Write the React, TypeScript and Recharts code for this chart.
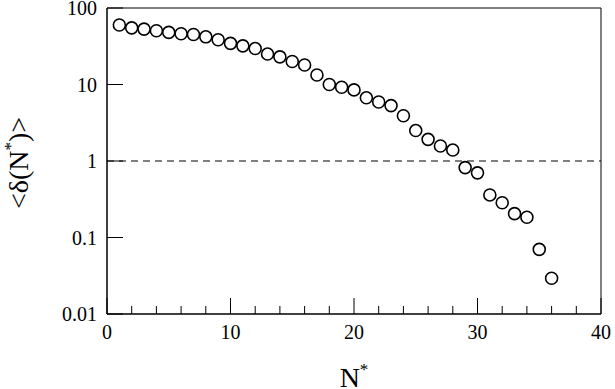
import React from 'react';
import { ScatterChart, Scatter, XAxis, YAxis, ReferenceLine, ReferenceArea, Label } from 'recharts';

const nStar = [1, 2, 3, 4, 5, 6, 7, 8, 9, 10, 11, 12, 13, 14, 15, 16, 17, 18, 19, 20, 21, 22, 23, 24, 25, 26, 27, 28, 29, 30, 31, 32, 33, 34, 35, 36];
const deltaMean = [60, 55, 53, 50.5, 48, 46, 45, 42, 38.5, 34.5, 32, 29.5, 25, 23, 20, 18, 13.3, 10, 9.2, 8.5, 6.7, 5.9, 5.3, 3.9, 2.5, 1.92, 1.57, 1.39, 0.82, 0.7, 0.36, 0.285, 0.205, 0.184, 0.07, 0.0293];

const xTicks = [0, 2, 4, 6, 8, 10, 12, 14, 16, 18, 20, 22, 24, 26, 28, 30, 32, 34, 36, 38, 40];
const xMajorTicks = [0, 10, 20, 30, 40];
const xTickLabels = ['0', '10', '20', '30', '40'];
const yTicks = [0.01, 0.1, 1, 10, 100];
const yTickLabels = ['0.01', '0.1', '1', '10', '100'];

const data = nStar.map((n, i) => ({ n, d: deltaMean[i] }));

const FONT = '"Liberation Serif", "DejaVu Serif", serif';

const XTick = (props: any) => {
  const { x, y, payload } = props;
  const idx = xMajorTicks.indexOf(payload.value);
  const major = idx >= 0;
  return (
    <g>
      <line x1={x} x2={x} y1={y} y2={y - (major ? 16 : 8)} stroke="#000" strokeWidth={1} />
      {major && (
        <text x={x} y={y + 25} textAnchor="middle" fontSize={20} fontFamily={FONT} fill="#000">
          {xTickLabels[idx]}
        </text>
      )}
    </g>
  );
};

const YTick = (props: any) => {
  const { x, y, payload } = props;
  const idx = yTicks.indexOf(payload.value);
  return (
    <g>
      <line x1={x} x2={x + 16} y1={y} y2={y} stroke="#000" strokeWidth={1} />
      <text x={x - 10} y={y + 7} textAnchor="end" fontSize={20} fontFamily={FONT} fill="#000">
        {idx >= 0 ? yTickLabels[idx] : ''}
      </text>
    </g>
  );
};

const Circle = (props: any) => {
  const { cx, cy } = props;
  if (cx == null || cy == null) return null;
  return <circle cx={cx} cy={cy} r={6} fill="#fff" stroke="#000" strokeWidth={1.6} />;
};

export default function App() {
  return (
    <div style={{ position: 'absolute', left: 0, top: 0, width: 615, height: 389, background: '#fff' }}>
      <ScatterChart width={615} height={389} margin={{ top: 8, right: 14, left: 0, bottom: 0 }}>
        <XAxis
          type="number"
          dataKey="n"
          domain={[0, 40]}
          ticks={xTicks}
          interval={0}
          height={75}
          tickSize={0}
          tickMargin={0}
          tickLine={false}
          tick={<XTick />}
          axisLine={{ stroke: '#000', strokeWidth: 1 }}
          allowDataOverflow
        >
          <Label
            content={(p: any) => {
              const vb = p.viewBox || { x: 107, y: 314, width: 494 };
              return (
                <text x={vb.x + vb.width / 2} y={387} textAnchor="middle" fontSize={28} fontFamily={FONT} fill="#000">
                  N<tspan fontSize={17} dy={-12}>*</tspan>
                </text>
              );
            }}
          />
        </XAxis>
        <YAxis
          type="number"
          dataKey="d"
          scale="log"
          domain={[0.01, 100]}
          ticks={yTicks}
          interval={0}
          width={107}
          tickSize={0}
          tickMargin={0}
          tickLine={false}
          tick={<YTick />}
          axisLine={{ stroke: '#000', strokeWidth: 1 }}
          allowDataOverflow
        >
          <Label
            content={() => (
              <text
                x={28}
                y={163}
                transform="rotate(-90, 28, 163)"
                textAnchor="middle"
                fontSize={28}
                fontFamily={FONT}
                fill="#000"
              >
                {'<δ(N'}
                <tspan fontSize={17} dy={-12}>*</tspan>
                <tspan dy={12}>{')>'}</tspan>
              </text>
            )}
          />
        </YAxis>
        <ReferenceArea x1={0} x2={40} y1={0.01} y2={100} fill="none" stroke="#000" strokeWidth={1} fillOpacity={0} />
        <ReferenceLine y={1} stroke="#000" strokeWidth={1} strokeDasharray="7 5" />
        <Scatter data={data} shape={<Circle />} isAnimationActive={false} />
      </ScatterChart>
    </div>
  );
}
